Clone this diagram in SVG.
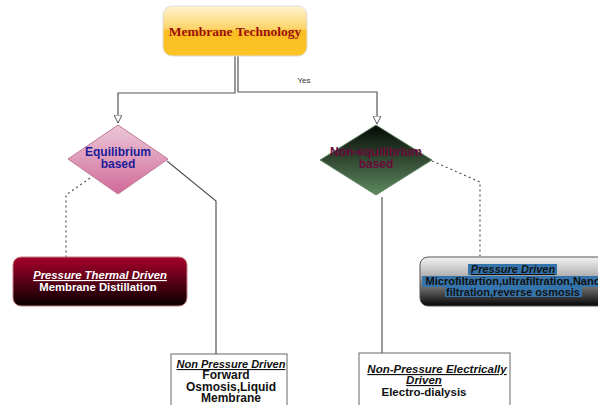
<svg xmlns="http://www.w3.org/2000/svg" width="598" height="405" viewBox="0 0 598 405">
<defs>
<linearGradient id="gTop" x1="0" y1="0" x2="0" y2="1">
<stop offset="0" stop-color="#fff4d0"/><stop offset="0.45" stop-color="#fdd46a"/><stop offset="0.5" stop-color="#fbbd22"/><stop offset="1" stop-color="#fcc425"/>
</linearGradient>
<linearGradient id="gPink" x1="0" y1="0" x2="0" y2="1">
<stop offset="0" stop-color="#ecc8d8"/><stop offset="1" stop-color="#d06a98"/>
</linearGradient>
<linearGradient id="gGreen" x1="0" y1="0" x2="0" y2="1">
<stop offset="0" stop-color="#050805"/><stop offset="1" stop-color="#5e8a5e"/>
</linearGradient>
<linearGradient id="gRed" x1="0" y1="0" x2="0" y2="1">
<stop offset="0" stop-color="#a8002c"/><stop offset="1" stop-color="#080000"/>
</linearGradient>
<linearGradient id="gGray" x1="0" y1="0" x2="0" y2="1">
<stop offset="0" stop-color="#f4f4f4"/><stop offset="0.35" stop-color="#b8b8b8"/><stop offset="1" stop-color="#050505"/>
</linearGradient>
<marker id="arr" viewBox="0 0 10 10" refX="10" refY="5" markerWidth="8" markerHeight="8" markerUnits="userSpaceOnUse" orient="auto">
<path d="M0,0 L10,5 L0,10 Z" fill="#fff" stroke="#555" stroke-width="1.2"/>
</marker>
</defs>
<style>
text{font-family:"Liberation Sans",Arial,sans-serif;font-weight:bold;font-size:11px;text-anchor:middle}
.conn{fill:none;stroke:#555;stroke-width:1.2}
.dash{stroke-dasharray:2,3}
.hd{font-style:italic;text-decoration:underline}
.dm{font-size:12px}
.bd{font-size:12px}
.box{fill:#fff;stroke:#666;stroke-width:1}
</style>
<g id="connectors">
<path class="conn" d="M235,56 V93 H118 V123" marker-end="url(#arr)"/>
<path class="conn" d="M238,56 V92 H377 V124" marker-end="url(#arr)"/>
<text x="304" y="83" style="font-weight:normal;font-size:8px;fill:#333">Yes</text>
<path class="conn dash" d="M90,178 L66,195 V257"/>
<path class="conn" d="M167,161 L216,201 V354"/>
<path class="conn dash" d="M432,161 L480,182 V256"/>
<path class="conn" d="M382,197 V353"/>
</g>
<g id="membrane-technology">
<rect x="163" y="6" width="144" height="50" rx="9" fill="url(#gTop)" stroke="#ddd" stroke-width="1"/>
<text x="235" y="36" style="font-family:'Liberation Serif','Times New Roman',serif;font-size:13.5px;fill:#9a1010">Membrane Technology</text>
</g>
<g id="equilibrium">
<path d="M118,125 L168,159 L118,194 L68,159 Z" fill="url(#gPink)" stroke="#c07898" stroke-width="1" stroke-linejoin="round"/>
<text x="118" y="156" class="dm" fill="#1c1c9a">Equilibrium</text>
<text x="118" y="168" class="dm" fill="#1c1c9a">based</text>
</g>
<g id="non-equilibrium">
<path d="M376,125 L432,160 L376,195 L320,160 Z" fill="url(#gGreen)" stroke="#6a8a6a" stroke-width="1" stroke-linejoin="round"/>
<text x="376" y="156" class="dm" fill="#6a0a3a">Non-equilibrium</text>
<text x="376" y="168" class="dm" fill="#6a0a3a">based</text>
</g>
<g id="pressure-thermal">
<rect x="13" y="257" width="174" height="49" rx="8" fill="url(#gRed)" stroke="#c08080" stroke-width="1"/>
<text x="100" y="279" class="hd" style="font-size:11.3px" fill="#fff">Pressure Thermal Driven</text>
<text x="98" y="291" style="font-size:11.3px" fill="#fff">Membrane Distillation</text>
</g>
<g id="pressure-driven">
<rect x="420" y="257" width="190" height="49" rx="8" fill="url(#gGray)" stroke="#555" stroke-width="1"/>
<rect x="468" y="264" width="89" height="11" fill="#3574ab"/>
<rect x="422" y="276" width="176" height="11" fill="#3574ab"/>
<rect x="445" y="287" width="137" height="10" fill="#3574ab"/>
<text x="513" y="273" class="hd" fill="#111">Pressure Driven</text>
<text x="513" y="285" fill="#111">Microfiltartion,ultrafiltration,Nano</text>
<text x="513" y="296" fill="#111">filtration,reverse osmosis</text>
</g>
<g id="non-pressure-driven">
<rect class="box" x="171" y="354" width="116" height="60"/>
<text x="231" y="368" class="hd" fill="#111">Non Pressure Driven</text>
<text x="226" y="379" class="bd" fill="#111">Forward</text>
<text x="231" y="391" class="bd" fill="#111">Osmosis,Liquid</text>
<text x="231" y="402" class="bd" fill="#111">Membrane</text>
</g>
<g id="non-pressure-electrically">
<rect class="box" x="359" y="353" width="151" height="60"/>
<text x="437" y="373" class="hd" style="font-size:11.5px" fill="#111">Non-Pressure Electrically</text>
<text x="424" y="384" class="hd" style="font-size:11.5px" fill="#111">Driven</text>
<text x="424" y="396" style="font-size:11.5px" fill="#111">Electro-dialysis</text>
</g>
</svg>
